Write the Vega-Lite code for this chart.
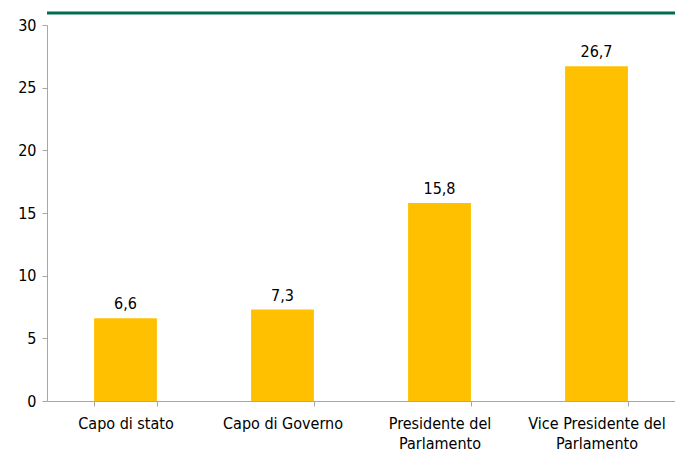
{
  "$schema": "https://vega.github.io/schema/vega-lite/v6.json",
  "width": 628,
  "height": 376,
  "autosize": "none",
  "padding": {"left": 47, "top": 25, "right": 0, "bottom": 50},
  "background": "white",
  "config": {
    "view": {"stroke": null},
    "font": "Liberation Sans Narrow, Arial Narrow, DejaVu Sans Condensed, sans-serif",
    "locale": {"number": {"decimal": ",", "thousands": ".", "grouping": [3], "currency": ["", " €"]}}
  },
  "data": {
    "values": [
      {"carica": "Capo di stato", "valore": 6.6},
      {"carica": "Capo di Governo", "valore": 7.3},
      {"carica": "Presidente del|Parlamento", "valore": 15.8},
      {"carica": "Vice Presidente del|Parlamento", "valore": 26.7}
    ]
  },
  "encoding": {
    "x": {
      "field": "carica", "type": "nominal", "sort": null,
      "scale": {"paddingInner": 0.6, "paddingOuter": 0.3},
      "axis": {
        "title": null, "labelAngle": 0, "labelFontSize": 16, "labelColor": "#000",
        "labelExpr": "split(datum.label, '|')", "labelLineHeight": 20,
        "tickBand": "extent", "domainColor": "#a6a6a6", "tickColor": "#a6a6a6",
        "tickSize": 5, "labelPadding": 9, "grid": false
      }
    },
    "y": {
      "field": "valore", "type": "quantitative",
      "scale": {"domain": [0, 30], "nice": false},
      "axis": {
        "title": null, "values": [0, 5, 10, 15, 20, 25, 30], "format": "d",
        "labelFontSize": 16, "labelColor": "#000", "grid": false,
        "domainColor": "#a6a6a6", "tickColor": "#a6a6a6", "tickSize": 5, "labelPadding": 6
      }
    }
  },
  "layer": [
    {"mark": {"type": "bar", "color": "#FFC000"}},
    {
      "mark": {"type": "text", "baseline": "bottom", "dy": -6, "fontSize": 16, "color": "#000"},
      "encoding": {"text": {"field": "valore", "type": "quantitative", "format": ".1f"}}
    },
    {
      "data": {"values": [{"y": 30.95}]},
      "mark": {"type": "rule", "color": "#006B4E", "strokeWidth": 3, "clip": false},
      "encoding": {"y": {"field": "y", "type": "quantitative"}, "x": null}
    }
  ]
}
